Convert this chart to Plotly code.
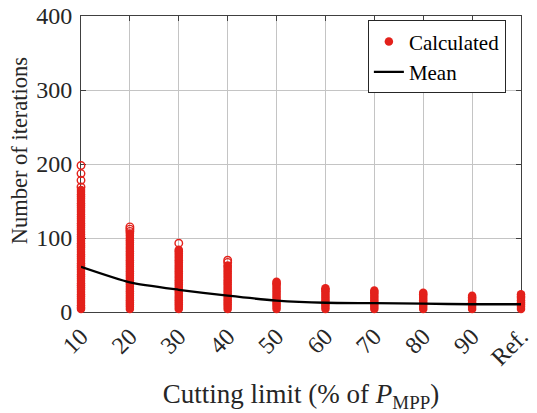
import plotly.graph_objects as go

# Cutting limits (% of P_MPP); the last position is the reference case
limit_values = [10, 20, 30, 40, 50, 60, 70, 80, 90, 100]
limit_labels = ["10", "20", "30", "40", "50", "60", "70", "80", "90", "Ref."]

# Number of iterations recorded for each cutting limit (bulk of the runs)
iter_10 = [4, 6, 9, 12, 15, 18, 21, 24, 27, 30, 33, 36, 39, 42, 45, 48, 51, 54, 57, 60,
           63, 66, 69, 72, 75, 78, 81, 84, 87, 90, 93, 96, 99, 102, 105, 108, 111, 114,
           117, 120, 123, 126, 129, 132, 135, 138, 141, 144, 147, 150, 153, 156, 159,
           162, 165]
iter_20 = [4, 7, 10, 13, 16, 19, 22, 25, 28, 31, 34, 37, 40, 43, 46, 49, 52, 55, 58, 61,
           64, 67, 70, 73, 76, 79, 82, 85, 88, 91, 94, 97, 100, 103, 106]
iter_30 = [4, 7, 10, 13, 16, 19, 22, 25, 28, 31, 34, 37, 40, 43, 46, 49, 52, 55, 58, 61,
           64, 67, 70, 73, 76, 79, 82, 84]
iter_40 = [4, 7, 10, 13, 16, 19, 22, 25, 28, 31, 34, 37, 40, 43, 46, 49, 52, 55, 58, 61,
           63]
iter_50 = [4, 7, 10, 13, 16, 19, 22, 25, 28, 31, 34, 37, 39, 41]
iter_60 = [4, 7, 10, 13, 16, 19, 22, 25, 28, 30, 32]
iter_70 = [4, 7, 10, 13, 16, 19, 22, 25, 27, 29]
iter_80 = [4, 7, 10, 13, 16, 19, 22, 24, 26]
iter_90 = [4, 7, 10, 13, 16, 18, 20, 22]
iter_ref = [4, 7, 10, 13, 16, 19, 21, 24]

# Isolated high iteration counts above the bulk of each column
high_10 = [169, 178, 187, 198]
high_20 = [109, 112, 115]
high_30 = [93]
high_40 = [67, 70]

# Mean number of iterations per cutting limit
mean_iter = [61, 40, 30, 22, 15.5, 12.5, 12, 11.2, 10.5, 10.5]

bulk = [iter_10, iter_20, iter_30, iter_40, iter_50,
        iter_60, iter_70, iter_80, iter_90, iter_ref]
high = [high_10, high_20, high_30, high_40, [], [], [], [], [], []]

red = "#e3211b"
serif = "Liberation Serif"
ink = "#262626"


def flatten(groups):
    xs, ys = [], []
    for lim, vals in zip(limit_values, groups):
        xs.extend([lim] * len(vals))
        ys.extend(vals)
    return xs, ys


bx, by = flatten(bulk)
hx, hy = flatten(high)

fig = go.Figure()

fig.add_trace(go.Scatter(
    x=bx, y=by, mode="markers", name="Calculated", legendgroup="calc",
    marker=dict(symbol="circle", size=8.5, color=red, line=dict(width=0)),
    cliponaxis=False,
))
fig.add_trace(go.Scatter(
    x=hx, y=hy, mode="markers", showlegend=False, legendgroup="calc",
    marker=dict(symbol="circle-open", size=7.5, color=red, line=dict(width=1.4, color=red)),
    cliponaxis=False,
))
fig.add_trace(go.Scatter(
    x=limit_values, y=mean_iter, mode="lines", name="Mean",
    line=dict(color="black", width=2.3, shape="spline", smoothing=0.6),
    cliponaxis=False,
))

axis_common = dict(
    showline=True, linecolor="#404040", linewidth=1, mirror="ticks",
    ticks="inside", ticklen=5, tickcolor="#404040",
    showgrid=True, gridcolor="#c4c4c4", gridwidth=1.3,
    zeroline=False, layer="below traces", automargin=False,
    tickfont=dict(family=serif, size=24, color=ink),
)

fig.update_layout(
    width=537, height=413,
    margin=dict(l=81, r=16, t=16, b=101),
    paper_bgcolor="white", plot_bgcolor="white",
    font=dict(family=serif, size=22, color=ink),
    xaxis=dict(
        range=[10, 100], tickvals=limit_values, ticktext=limit_labels,
        tickangle=-45,
        title=dict(text="Cutting limit (% of <i>P</i><sub>MPP</sub>)",
                   font=dict(family=serif, size=27, color=ink), standoff=14),
        **axis_common,
    ),
    yaxis=dict(
        range=[0, 400], tickvals=[0, 100, 200, 300, 400],
        ticklabelstandoff=3,
        **axis_common,
    ),
    legend=dict(
        x=0.652, y=0.985, xanchor="left", yanchor="top",
        bgcolor="white", bordercolor="#262626", borderwidth=1,
        font=dict(family=serif, size=21, color="black"),
        tracegroupgap=0, itemwidth=30,
    ),
    annotations=[dict(
        text="Number of iterations", textangle=-90,
        xref="paper", yref="paper", x=-0.141, y=0.546,
        xanchor="center", yanchor="middle", showarrow=False,
        font=dict(family=serif, size=22.5, color=ink),
    )],
)

fig.write_html("out.html")
